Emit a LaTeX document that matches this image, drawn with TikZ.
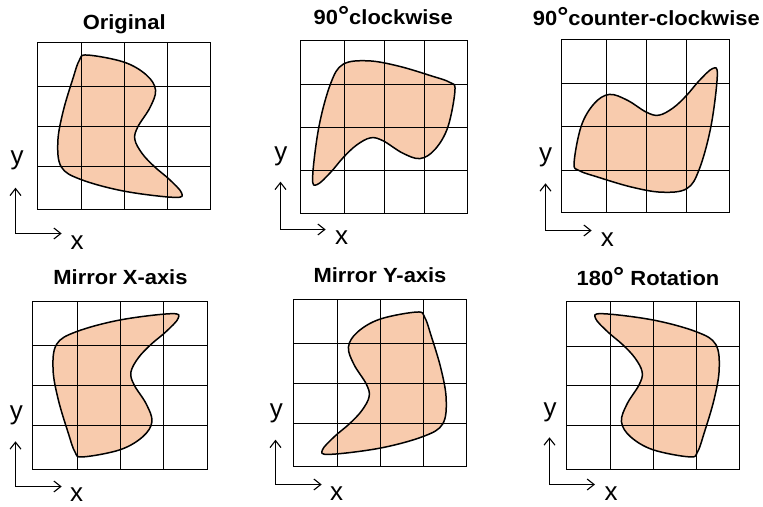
\documentclass[tikz,border=0pt]{standalone}
\usepackage{fontspec}
\setmainfont{Liberation Sans}
\newfontfamily\titlefont[FakeStretch=1.07]{Liberation Sans}
\usetikzlibrary{arrows.meta}
\definecolor{peach}{RGB}{248,203,173}
\tikzset{
  title/.style={font=\titlefont\bfseries\fontsize{20.5}{25}\selectfont, anchor=base, inner sep=0pt},
  axlabel/.style={font=\fontsize{26}{30}\selectfont, inner sep=0pt},
  gridline/.style={line width=1.6pt, line cap=rect},
  blobline/.style={fill=peach, draw=black, line width=1.5pt},
  axisarrow/.style={line width=1.1pt, {Straight Barb[length=7pt,width=11pt]}-{Straight Barb[length=7pt,width=11pt]}},
}
\newcommand\degsym{{\fontsize{26}{26}\selectfont °}}
\newcommand\myblob{\path[blobline] plot[smooth cycle, tension=0.6] coordinates {
 (1.15,0.30) (2.0,0.47) (2.52,0.78) (2.73,1.14) (2.60,1.56) (2.32,2.02) (2.25,2.32)
 (2.42,2.66) (2.71,2.98) (3.05,3.28) (3.33,3.60) (3.17,3.71) (2.0,3.56) (1.0,3.28)
 (0.55,2.98) (0.47,2.38) (0.59,1.66) (0.82,0.86) (0.97,0.42)};}
\newcommand\vlines[3]{\foreach \xx in {#1}{\draw[gridline] (\xx,#2) -- (\xx,#3);}}
\newcommand\hlines[3]{\foreach \yy in {#1}{\draw[gridline] (#2,\yy) -- (#3,\yy);}}
\begin{document}
\begin{tikzpicture}[x=1pt,y=-1pt]
\fill[white] (0,0) rectangle (763,506);
\useasboundingbox (0,0) rectangle (763,506);
% titles
\node[title] (t1) at (124.2,29.3) {Original};
\node[title] (t2) at (383.3,24.7) {90\degsym clockwise};
\node[title] (t3) at (646.3,25.5) {90\degsym counter-clockwise};
\node[title] (t4) at (120.5,284) {Mirror X-axis};
\node[title] (t5) at (380,282.3) {Mirror Y-axis};
\node[title] (t6) at (648,285.3) {180\degsym\ Rotation};
% panel 1 original
\begin{scope}[shift={(37.5,42.5)}, x={(43.25pt,0pt)}, y={(0pt,-41.75pt)}]
 \myblob
\end{scope}
\vlines{37.5,81.5,124.5,167.5,210.5}{42.5}{209.5}
\hlines{42.5,86.5,126.5,166.5,209.5}{37.5}{210.5}
% panel 2 90 cw
\begin{scope}[shift={(467.5,40.5)}, x={(0pt,-43.25pt)}, y={(-41.75pt,0pt)}]
 \myblob
\end{scope}
\vlines{300.5,344.5,384.5,424.5,467.5}{40.5}{213.5}
\hlines{40.5,84.5,127.5,170.5,213.5}{300.5}{467.5}
% panel 3 90 ccw
\begin{scope}[shift={(561.5,212.5)}, x={(0pt,43.25pt)}, y={(42pt,0pt)}]
 \myblob
\end{scope}
\vlines{561.5,606.5,646.5,686.5,729.5}{39.5}{212.5}
\hlines{39.5,83.5,126.5,170.5,212.5}{561.5}{729.5}
% panel 4 mirror x
\begin{scope}[shift={(32.5,469.5)}, x={(43.75pt,0pt)}, y={(0pt,42pt)}]
 \myblob
\end{scope}
\vlines{32.5,77.5,120.5,163.5,207.5}{301.5}{469.5}
\hlines{301.5,345.5,385.5,425.5,469.5}{32.5}{207.5}
% panel 5 mirror y
\begin{scope}[shift={(466.5,299.5)}, x={(-43.25pt,0pt)}, y={(0pt,-41.75pt)}]
 \myblob
\end{scope}
\vlines{293.5,337.5,380.5,423.5,466.5}{299.5}{466.5}
\hlines{299.5,343.5,383.5,423.5,466.5}{293.5}{466.5}
% panel 6 180
\begin{scope}[shift={(739.5,469.5)}, x={(-43.25pt,0pt)}, y={(0pt,42pt)}]
 \myblob
\end{scope}
\vlines{566.5,610.5,653.5,696.5,739.5}{301.5}{469.5}
\hlines{301.5,346.5,385.5,425.5,469.5}{566.5}{739.5}
% axes
\coordinate (o1) at (15.5,233.5); \coordinate (ya1) at (15.5,187.7); \coordinate (xa1) at (61.7,233.5);
\draw[axisarrow] (ya1) -- (o1) -- (xa1);
\node[axlabel] (ly1) at (17,160) {y}; \node[axlabel] (lx1) at (77.2,242.2) {x};
\coordinate (o2) at (280.5,229.5); \coordinate (ya2) at (280.5,181.7); \coordinate (xa2) at (325.7,229.5);
\draw[axisarrow] (ya2) -- (o2) -- (xa2);
\node[axlabel] (ly2) at (280.8,156.7) {y}; \node[axlabel] (lx2) at (341.7,237.5) {x};
\coordinate (o3) at (545.5,230.5); \coordinate (ya3) at (545.5,183.3); \coordinate (xa3) at (591.7,230.5);
\draw[axisarrow] (ya3) -- (o3) -- (xa3);
\node[axlabel] (ly3) at (545.5,157.5) {y}; \node[axlabel] (lx3) at (607.3,239.5) {x};
\coordinate (o4) at (15.5,486.5); \coordinate (ya4) at (15.5,441.3); \coordinate (xa4) at (61.7,486.5);
\draw[axisarrow] (ya4) -- (o4) -- (xa4);
\node[axlabel] (ly4) at (16.3,415.5) {y}; \node[axlabel] (lx4) at (76.7,495) {x};
\coordinate (o5) at (275.5,484.5); \coordinate (ya5) at (275.5,439.7); \coordinate (xa5) at (321.7,484.5);
\draw[axisarrow] (ya5) -- (o5) -- (xa5);
\node[axlabel] (ly5) at (276.3,413.3) {y}; \node[axlabel] (lx5) at (336.7,493.5) {x};
\coordinate (o6) at (549.5,484.5); \coordinate (ya6) at (549.5,437.3); \coordinate (xa6) at (595,484.5);
\draw[axisarrow] (ya6) -- (o6) -- (xa6);
\node[axlabel] (ly6) at (550,412.2) {y}; \node[axlabel] (lx6) at (611.2,493.5) {x};
\end{tikzpicture}
\end{document}
